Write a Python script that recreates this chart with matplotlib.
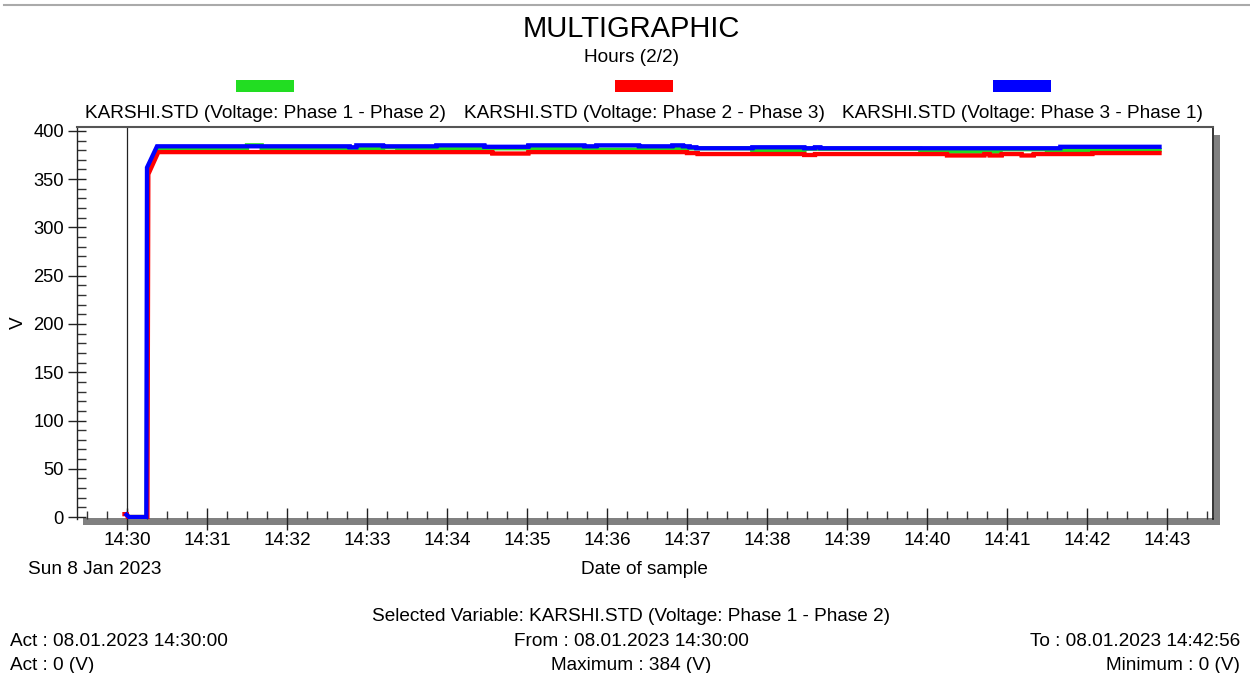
import matplotlib
matplotlib.use("Agg")
import matplotlib.pyplot as plt
from matplotlib.patches import Rectangle
from matplotlib.lines import Line2D
from matplotlib.ticker import MultipleLocator, FixedLocator

plt.rcParams['font.family'] = ['Liberation Sans', 'DejaVu Sans']

# ---------------- data (time in seconds after 14:30:00, voltage in V) -------------
series_labels = [
    "KARSHI.STD (Voltage: Phase 1 - Phase 2)",
    "KARSHI.STD (Voltage: Phase 2 - Phase 3)",
    "KARSHI.STD (Voltage: Phase 3 - Phase 1)",
]
series_colors = ["#22dd22", "#ff0000", "#0000ff"]

# start-up samples (joined by straight segments)
green_start_t = [0, 14.8, 15.5, 22.5]
green_start_v = [0, 0, 360, 382]
red_start_t = [-3.5, 0, 0.5, 15.3, 16, 23.5]
red_start_v = [3, 3, 0, 0, 355, 378]
blue_start_t = [-1.5, 1.5, 14.5, 15, 22.5]
blue_start_v = [4, 0, 0, 362, 384]

# steady-state samples (held until the next sample)
green_t = [90, 101, 192, 203, 352, 384, 469, 508, 595, 655, 690, 776]
green_v = [385, 382, 383, 382, 380.5, 382, 380, 381.5, 378.5, 381, 380, 380]

red_t = [274, 301, 420, 428, 508, 516, 615, 643, 647, 656, 671, 680, 724, 776]
red_v = [376.5, 378, 377, 376, 375, 376, 374.5, 376, 374.5, 376, 374.5, 376, 377, 377]

blue_t = [167, 172, 192, 232, 268, 301, 343, 352, 384, 409, 417, 422, 427, 469,
          508, 516, 520, 700, 776]
blue_v = [383, 385, 384, 385, 383.5, 385, 384, 385, 384, 385, 384, 383, 382, 383,
          382, 383, 382, 383.5, 383.5]

tick_seconds = [0, 60, 120, 180, 240, 300, 360, 420, 480, 540, 600, 660, 720, 780]
tick_labels = ["14:30", "14:31", "14:32", "14:33", "14:34", "14:35", "14:36",
               "14:37", "14:38", "14:39", "14:40", "14:41", "14:42", "14:43"]


def build_path(st, sv, t, v):
    xs, ys = list(st), list(sv)
    for ti, vi in zip(t, v):
        xs.append(ti)
        ys.append(ys[-1])
        xs.append(ti)
        ys.append(vi)
    return xs, ys


# ---------------- figure -------------
W, H = 1250, 673
fig = plt.figure(figsize=(W / 100, H / 100), dpi=100)


def fx(px):
    return px / W


def fy(py):
    return 1 - py / H


ax = fig.add_axes([fx(77), fy(518.5), fx(1213) - fx(77), fy(127) - fy(518.5)])

for (st, sv, t, v), c, z in zip(
        [(green_start_t, green_start_v, green_t, green_v),
         (red_start_t, red_start_v, red_t, red_v),
         (blue_start_t, blue_start_v, blue_t, blue_v)],
        series_colors, [3, 4, 5]):
    xs, ys = build_path(st, sv, t, v)
    ax.plot(xs, ys, color=c, lw=3.1, zorder=z,
            solid_joinstyle="miter", solid_capstyle="butt")

ax.axvline(0, color="#222222", lw=0.9, zorder=2)

ax.set_xlim(-37.5, 814.5)
ax.set_ylim(-1.5, 404)

ax.xaxis.set_major_locator(FixedLocator(tick_seconds))
ax.set_xticklabels(tick_labels)
ax.xaxis.set_minor_locator(MultipleLocator(15))
ax.yaxis.set_major_locator(MultipleLocator(50))
ax.yaxis.set_minor_locator(MultipleLocator(10))

ax.tick_params(axis="x", which="major", direction="inout", length=16.5, width=1,
               color="#222222", labelsize=13.7, pad=1.5)
ax.tick_params(axis="x", which="minor", direction="in", length=6, width=1,
               color="#333333")
ax.tick_params(axis="y", which="major", direction="inout", length=13, width=1,
               color="#222222", labelsize=13.2, pad=3)
ax.tick_params(axis="y", which="minor", direction="in", length=6.5, width=1,
               color="#333333")

ax.spines["bottom"].set_visible(False)
ax.spines["left"].set_color("#222222")
ax.spines["left"].set_linewidth(1.0)
ax.spines["top"].set_color("#555555")
ax.spines["top"].set_linewidth(1.5)
ax.spines["right"].set_color("#111111")
ax.spines["right"].set_linewidth(1.2)

# 3D shadow bars (bottom and right)
ax.add_patch(Rectangle((fx(83), fy(525)), fx(1220) - fx(83), fy(518) - fy(525),
                       transform=fig.transFigure, facecolor="#808080",
                       edgecolor="none", clip_on=False, zorder=1))
ax.add_patch(Rectangle((fx(1213.5), fy(525)), fx(1220) - fx(1213.5), fy(135) - fy(525),
                       transform=fig.transFigure, facecolor="#808080",
                       edgecolor="none", clip_on=False, zorder=1))

# top separator line
fig.add_artist(Line2D([fx(4), 1.0], [fy(5), fy(5)], color="#aaaaaa", lw=1.5))

FS = 13.7
# titles
fig.text(fx(631), fy(37), "MULTIGRAPHIC", ha="center", va="baseline", fontsize=21)
fig.text(fx(631), fy(62), "Hours (2/2)", ha="center", va="baseline", fontsize=FS)

# legend
legend_centers = [265, 644, 1022]
for cx, lab, col in zip(legend_centers, series_labels, series_colors):
    fig.add_artist(Rectangle((fx(cx - 29), fy(92)), fx(58), fy(80) - fy(92),
                             transform=fig.transFigure, facecolor=col,
                             edgecolor="none"))
    fig.text(fx(cx), fy(118), lab, ha="center", va="baseline", fontsize=FS)

# axis labels
fig.text(fx(18), fy(323), "V", rotation=90, ha="center", va="center", fontsize=FS)
fig.text(fx(95), fy(574), "Sun 8 Jan 2023", ha="center", va="baseline", fontsize=FS)
fig.text(fx(644), fy(574), "Date of sample", ha="center", va="baseline", fontsize=FS)

# footer info
fig.text(fx(631), fy(621), "Selected Variable: KARSHI.STD (Voltage: Phase 1 - Phase 2)",
         ha="center", va="baseline", fontsize=FS)
fig.text(fx(10), fy(646), "Act : 08.01.2023 14:30:00", ha="left", va="baseline", fontsize=FS)
fig.text(fx(631), fy(646), "From : 08.01.2023 14:30:00", ha="center", va="baseline", fontsize=FS)
fig.text(fx(1240), fy(646), "To : 08.01.2023 14:42:56", ha="right", va="baseline", fontsize=FS)
fig.text(fx(10), fy(670), "Act : 0 (V)", ha="left", va="baseline", fontsize=FS)
fig.text(fx(631), fy(670), "Maximum : 384 (V)", ha="center", va="baseline", fontsize=FS)
fig.text(fx(1240), fy(670), "Minimum : 0 (V)", ha="right", va="baseline", fontsize=FS)

fig.savefig("out.png", dpi=100)
